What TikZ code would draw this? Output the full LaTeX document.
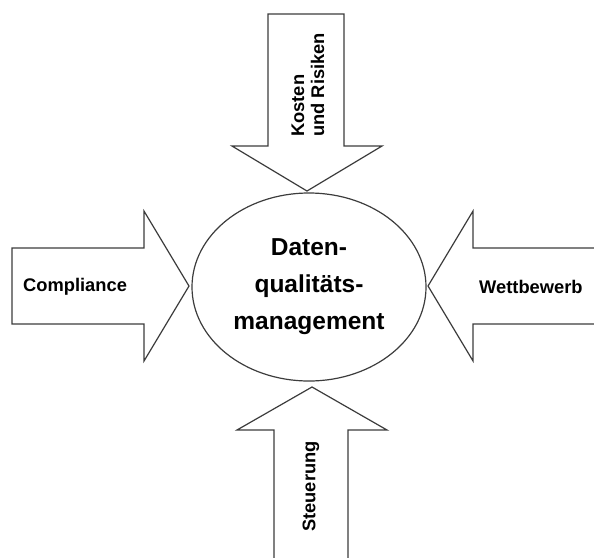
\documentclass[tikz,border=0pt]{standalone}
\usepackage{fontspec}
\setmainfont{Liberation Sans}
\usepackage{tikz}
\usetikzlibrary{shapes.geometric, positioning}
\definecolor{linegray}{RGB}{60, 60, 60}

\tikzset{
  blockarrow/.style={draw=linegray, line width=1.2pt, fill=white, line join=miter},
  sidelabel/.style={font=\bfseries\fontsize{18.3}{20}\selectfont, inner sep=0pt},
}

\begin{document}
\begin{tikzpicture}[x=1pt, y=-1pt]

  \useasboundingbox (0, 0) rectangle (594, 557);

  % Top arrow
  \draw[blockarrow] (268, 14) -- (344, 14) -- (344, 146) -- (382, 146)
    -- (307, 191) -- (232, 146) -- (268, 146) -- cycle;

  % Left arrow
  \draw[blockarrow] (12, 248) -- (144, 248) -- (144, 211) -- (189, 286)
    -- (144, 361) -- (144, 324) -- (12, 324) -- cycle;

  % Right arrow (runs off the edge)
  \draw[blockarrow] (600, 248) -- (473, 248) -- (473, 211) -- (428, 286)
    -- (473, 361) -- (473, 324) -- (600, 324);

  % Bottom arrow (runs off the edge)
  \draw[blockarrow] (274, 565) -- (274, 430) -- (237, 430) -- (312, 387)
    -- (387, 430) -- (348, 430) -- (348, 565);

  % Centre ellipse
  \node[ellipse, draw=linegray, line width=1.2pt, minimum width=234pt,
        minimum height=188pt, inner sep=0pt, align=center,
        font=\bfseries\fontsize{24.5}{37}\selectfont]
    (dqm) at (309, 287) {Daten-\\qualitäts-\\management};

  % Arrow labels
  \node[sidelabel, rotate=90, anchor=west, align=left] (kosten) at (308, 137)
    {Kosten\\und Risiken};
  \node[sidelabel, anchor=west] (compl) at (23, 287) {Compliance};
  \node[sidelabel, anchor=west] (wettb) at (479, 287) {Wettbewerb};
  \node[sidelabel, rotate=90, anchor=west] (steuer) at (311, 532) {Steuerung};

\end{tikzpicture}
\end{document}
